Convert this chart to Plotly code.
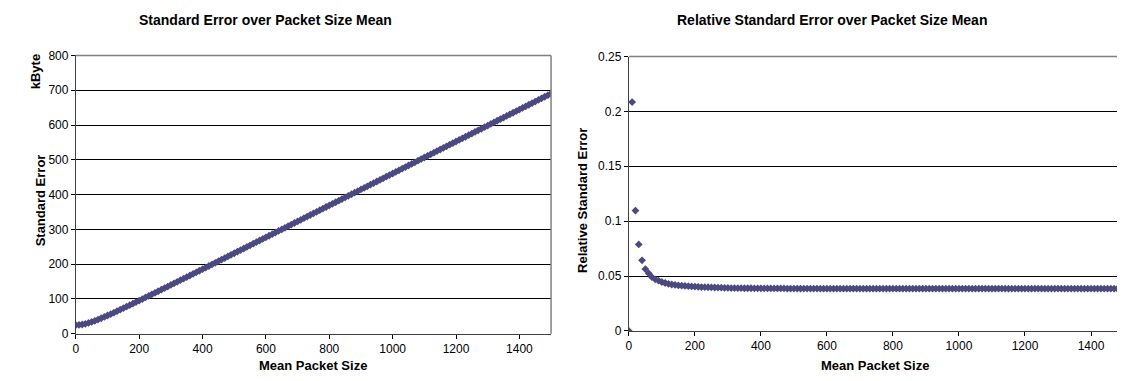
import plotly.graph_objects as go

packet_size = [0, 10, 20, 30, 40, 50, 60, 70, 80, 90, 100, 110, 120, 130, 140, 150, 160, 170, 180, 190,
               200, 210, 220, 230, 240, 250, 260, 270, 280, 290, 300, 310, 320, 330, 340, 350, 360, 370, 380, 390,
               400, 410, 420, 430, 440, 450, 460, 470, 480, 490, 500, 510, 520, 530, 540, 550, 560, 570, 580, 590,
               600, 610, 620, 630, 640, 650, 660, 670, 680, 690, 700, 710, 720, 730, 740, 750, 760, 770, 780, 790,
               800, 810, 820, 830, 840, 850, 860, 870, 880, 890, 900, 910, 920, 930, 940, 950, 960, 970, 980, 990,
               1000, 1010, 1020, 1030, 1040, 1050, 1060, 1070, 1080, 1090, 1100, 1110, 1120, 1130, 1140, 1150, 1160, 1170, 1180, 1190,
               1200, 1210, 1220, 1230, 1240, 1250, 1260, 1270, 1280, 1290, 1300, 1310, 1320, 1330, 1340, 1350, 1360, 1370, 1380, 1390,
               1400, 1410, 1420, 1430, 1440, 1450, 1460, 1470, 1480, 1490, 1500]

std_error_kbyte = [25.0, 25.4, 26.6, 28.5, 31.0, 34.0, 37.2, 40.8, 44.5, 48.4,
                   52.4, 56.4, 60.6, 64.8, 69.1, 73.4, 77.7, 82.1, 86.5, 90.9,
                   95.3, 99.8, 104.3, 108.8, 113.2, 117.7, 122.2, 126.7, 131.2, 135.7,
                   140.3, 144.8, 149.3, 153.9, 158.4, 162.9, 167.5, 172.0, 176.6, 181.1,
                   185.7, 190.2, 194.8, 199.4, 204.0, 208.5, 213.1, 217.6, 222.2, 226.8,
                   231.4, 235.9, 240.5, 245.1, 249.7, 254.2, 258.8, 263.4, 268.0, 272.5,
                   277.1, 281.7, 286.3, 290.9, 295.5, 300.0, 304.6, 309.2, 313.8, 318.4,
                   323.0, 327.6, 332.1, 336.7, 341.3, 345.9, 350.5, 355.1, 359.7, 364.3,
                   368.8, 373.4, 378.0, 382.6, 387.2, 391.8, 396.4, 401.0, 405.6, 410.2,
                   414.8, 419.3, 423.9, 428.5, 433.1, 437.7, 442.3, 446.9, 451.5, 456.1,
                   460.7, 465.2, 469.8, 474.4, 479.0, 483.6, 488.2, 492.8, 497.4, 502.0,
                   506.6, 511.2, 515.8, 520.4, 525.0, 529.6, 534.2, 538.8, 543.4, 548.0,
                   552.6, 557.2, 561.7, 566.3, 570.9, 575.5, 580.1, 584.7, 589.3, 593.9,
                   598.5, 603.1, 607.7, 612.3, 616.9, 621.5, 626.1, 630.7, 635.3, 639.9,
                   644.5, 649.1, 653.7, 658.3, 662.9, 667.5, 672.1, 676.7, 681.3, 685.9,
                   690.5]

rel_std_error = [0.0, 0.2085, 0.1097, 0.0788, 0.0643, 0.0564, 0.0525, 0.0490, 0.0470, 0.0458,
                 0.0446, 0.0437, 0.0429, 0.0423, 0.0419, 0.0415, 0.0412, 0.0410, 0.0408, 0.0406,
                 0.0404, 0.0402, 0.0400, 0.0399, 0.0398, 0.0397, 0.0396, 0.0395, 0.0394, 0.0393,
                 0.0392, 0.0391, 0.0391, 0.0390, 0.0390, 0.0389, 0.0389, 0.0389, 0.0388, 0.0388,
                 0.0388, 0.0388, 0.0387, 0.0387, 0.0387, 0.0387, 0.0387, 0.0387, 0.0386, 0.0386,
                 0.0386, 0.0386, 0.0386, 0.0386, 0.0386, 0.0386, 0.0386, 0.0386, 0.0385, 0.0385,
                 0.0385, 0.0385, 0.0385, 0.0385, 0.0385, 0.0385, 0.0385, 0.0385, 0.0385, 0.0385,
                 0.0385, 0.0385, 0.0385, 0.0385, 0.0385, 0.0385, 0.0385, 0.0385, 0.0385, 0.0385,
                 0.0385, 0.0385, 0.0385, 0.0385, 0.0385, 0.0385, 0.0385, 0.0385, 0.0385, 0.0385,
                 0.0385, 0.0385, 0.0385, 0.0385, 0.0385, 0.0385, 0.0385, 0.0385, 0.0385, 0.0385,
                 0.0385, 0.0385, 0.0385, 0.0385, 0.0385, 0.0385, 0.0385, 0.0385, 0.0385, 0.0385,
                 0.0385, 0.0385, 0.0385, 0.0385, 0.0385, 0.0385, 0.0385, 0.0385, 0.0385, 0.0385,
                 0.0385, 0.0385, 0.0385, 0.0385, 0.0385, 0.0385, 0.0385, 0.0385, 0.0385, 0.0385,
                 0.0385, 0.0385, 0.0385, 0.0385, 0.0385, 0.0385, 0.0385, 0.0385, 0.0385, 0.0385,
                 0.0385, 0.0385, 0.0385, 0.0385, 0.0385, 0.0385, 0.0385, 0.0385, 0.0385, 0.0385,
                 0.0385]

left_title = "Standard Error over Packet Size Mean"
right_title = "Relative Standard Error over Packet Size Mean"
x_title = "Mean Packet Size"
left_y_title = "Standard Error"
left_y_unit = "kByte"
right_y_title = "Relative Standard Error"

W, H = 1125, 381
FONT = "Liberation Sans, Arial, sans-serif"
MARKER_COLOR = "#4a4a80"


def px_x(p):
    return p / W


def px_y(p):
    return (H - p) / H


fig = go.Figure()
fig.add_trace(go.Scatter(x=packet_size, y=std_error_kbyte, mode="markers",
                         marker=dict(symbol="diamond", size=6, color=MARKER_COLOR),
                         xaxis="x", yaxis="y", showlegend=False))
fig.add_trace(go.Scatter(x=packet_size, y=rel_std_error, mode="markers",
                         marker=dict(symbol="diamond", size=6, color=MARKER_COLOR),
                         xaxis="x2", yaxis="y2", showlegend=False))

tickfont = dict(family=FONT, size=12, color="black")
common_x = dict(range=[0, 1500], tickvals=[0, 200, 400, 600, 800, 1000, 1200, 1400],
                ticks="outside", ticklen=4, tickcolor="black", showgrid=False, zeroline=False,
                showline=True, linecolor="#404040", linewidth=1, tickfont=tickfont, fixedrange=True)
common_y = dict(ticks="outside", ticklen=4, tickcolor="black", showgrid=True, gridcolor="black",
                gridwidth=1, zeroline=False, showline=True, linecolor="#404040", linewidth=1,
                tickfont=tickfont, fixedrange=True)

L = dict(x0=65, x1=541.5, y0=42.0, y1=330.9)
R = dict(x0=619.5, x1=1116, y0=43.1, y1=328.0)

fig.update_layout(
    width=W, height=H, margin=dict(l=0, r=0, t=0, b=0),
    paper_bgcolor="white", plot_bgcolor="white",
    font=dict(family=FONT, color="black"),
    xaxis=dict(domain=[px_x(L["x0"]), px_x(L["x1"])], anchor="y", **common_x),
    yaxis=dict(domain=[px_y(L["y1"]), px_y(L["y0"])], anchor="x", range=[0, 800],
               tickvals=[0, 100, 200, 300, 400, 500, 600, 700, 800], **common_y),
    xaxis2=dict(domain=[px_x(R["x0"]), px_x(R["x1"])], anchor="y2", **common_x),
    yaxis2=dict(domain=[px_y(R["y1"]), px_y(R["y0"])], anchor="x2", range=[0, 0.25],
                tickvals=[0, 0.05, 0.1, 0.15, 0.2, 0.25], ticktext=["0", "0.05", "0.1", "0.15", "0.2", "0.25"],
                **common_y),
)

# gray frame (top/right)
for xr, yr in (("x domain", "y domain"), ("x2 domain", "y2 domain")):
    fig.add_shape(type="line", xref=xr, yref=yr, x0=0, x1=1, y0=1, y1=1,
                  line=dict(color="#808080", width=1.5), layer="above")
    fig.add_shape(type="line", xref=xr, yref=yr, x0=1, x1=1, y0=0, y1=1,
                  line=dict(color="#808080", width=1.5), layer="above")

bold = dict(family=FONT, size=14, color="black")
axis_bold = dict(family=FONT, size=13, color="black")
ann = [
    dict(text="<b>" + left_title + "</b>", x=px_x(255), y=px_y(5.5), font=bold),
    dict(text="<b>" + right_title + "</b>", x=px_x(823), y=px_y(5.5), font=bold),
    dict(text="<b>" + x_title + "</b>", x=px_x(302.5), y=px_y(363.4), font=axis_bold),
    dict(text="<b>" + x_title + "</b>", x=px_x(866.5), y=px_y(363.4), font=axis_bold),
    dict(text="<b>" + left_y_title + "</b>", x=px_x(30.5), y=px_y(192), font=axis_bold, textangle=-90),
    dict(text="<b>" + left_y_unit + "</b>", x=px_x(24.5), y=px_y(59), font=axis_bold, textangle=-90),
    dict(text="<b>" + right_y_title + "</b>", x=px_x(573.5), y=px_y(192), font=axis_bold, textangle=-90),
]
for a in ann:
    fig.add_annotation(xref="paper", yref="paper", showarrow=False, xanchor="center", yanchor="middle", **a)

fig.write_html("out.html")
